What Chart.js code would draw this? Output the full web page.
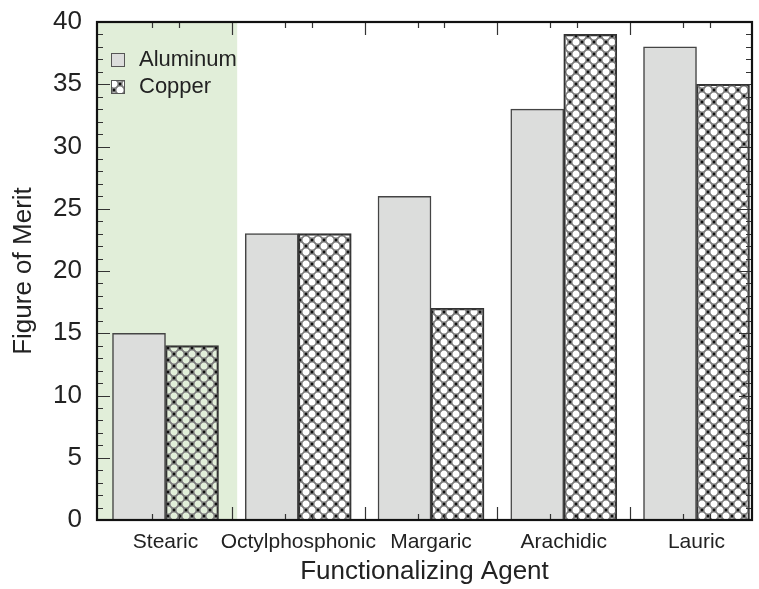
<!DOCTYPE html>
<html>
<head>
<meta charset="utf-8">
<script src="https://cdn.jsdelivr.net/npm/chart.js@4.4.1/dist/chart.umd.min.js"></script>
<style>
html, body { margin: 0; padding: 0; background: #fff; }
#wrap { width: 759px; height: 589px; }
</style>
</head>
<body>
<div id="wrap"><canvas id="chart" width="759" height="589"></canvas></div>
<script>
// values
const agents = ['Stearic', 'Octylphosphonic', 'Margaric', 'Arachidic', 'Lauric'];
const aluminum = [15, 23, 26, 33, 38];
const copper = [14, 23, 17, 39, 35];
const yMin = 0, yMax = 40, yStep = 5;
// x axis runs in category units (0 = Stearic)
const xMin = -0.516, xMax = 4.418;
const shaded = [xMin, 0.54];          // highlighted Stearic band
const xMajorTicks = [0.5, 1.5, 2.5, 3.5];
const xMinorTicks = [-0.1, 0.1, 0.9, 1.1, 1.9, 2.1, 2.9, 3.1, 3.9, 4.1];

const FONT = '"Liberation Sans", Arial, sans-serif';
const TEXT = '#222';

function makeHatch() {
    let c = document.createElement('canvas');
    c.width = 12; c.height = 12;
    let g = c.getContext('2d');
    g.strokeStyle = '#7d7d7d';
    g.lineWidth = 1.4;
    [[6, 0], [0, 6], [12, 6], [6, 12]].forEach(function(p) {
        g.beginPath();
        g.arc(p[0], p[1], 4.2, 0, Math.PI * 2);
        g.stroke();
    });
    g.fillStyle = '#111';
    [[0, 0], [12, 0], [0, 12], [12, 12], [6, 6]].forEach(function(p) {
        g.fillRect(p[0] - 1.3, p[1] - 1.3, 2.6, 2.6);
    });
    return g.createPattern(c, 'repeat');
}
let hatch = makeHatch();

let framePlugin = {
    id: 'frame',
    beforeDatasetsDraw: function(chart) {
        let ctx = chart.ctx, a = chart.chartArea, x = chart.scales.x;
        ctx.save();
        ctx.fillStyle = '#e1eed9';
        let x0 = x.getPixelForValue(shaded[0]), x1 = x.getPixelForValue(shaded[1]);
        ctx.fillRect(x0, a.top, x1 - x0, a.bottom - a.top);
        ctx.restore();
    },
    afterDatasetsDraw: function(chart) {
        let ctx = chart.ctx, a = chart.chartArea, x = chart.scales.x, y = chart.scales.y;
        ctx.save();
        ctx.strokeStyle = '#333';
        ctx.lineWidth = 1.2;
        ctx.beginPath();
        for (let v = yMin + 1; v < yMax; v++) {
            let py = Math.round(y.getPixelForValue(v)) + 0.5;
            let len = v % yStep == 0 ? 13 : 6;
            ctx.moveTo(a.left, py); ctx.lineTo(a.left + len, py);
            ctx.moveTo(a.right, py); ctx.lineTo(a.right - len, py);
        }
        xMajorTicks.forEach(function(v) {
            let px = Math.round(x.getPixelForValue(v)) + 0.5;
            ctx.moveTo(px, a.bottom); ctx.lineTo(px, a.bottom - 13);
            ctx.moveTo(px, a.top); ctx.lineTo(px, a.top + 13);
        });
        xMinorTicks.forEach(function(v) {
            let px = Math.round(x.getPixelForValue(v)) + 0.5;
            ctx.moveTo(px, a.bottom); ctx.lineTo(px, a.bottom - 6);
            ctx.moveTo(px, a.top); ctx.lineTo(px, a.top + 6);
        });
        ctx.stroke();
        ctx.strokeStyle = '#111';
        ctx.lineWidth = 2.2;
        ctx.strokeRect(a.left, a.top, a.right - a.left, a.bottom - a.top);
        ctx.restore();
    },
    afterDraw: function(chart) {
        // legend in the upper left corner of the plot
        let ctx = chart.ctx, a = chart.chartArea;
        ctx.save();
        ctx.font = '22px ' + FONT;
        ctx.textBaseline = 'middle';
        chart.data.datasets.forEach(function(ds, i) {
            let bx = a.left + 14, by = a.top + 31 + i * 27;
            ctx.fillStyle = '#fff';
            ctx.fillRect(bx, by, 14, 14);
            ctx.fillStyle = ds.backgroundColor;
            ctx.fillRect(bx, by, 14, 14);
            ctx.strokeStyle = '#555';
            ctx.lineWidth = 1;
            ctx.strokeRect(bx + 0.5, by + 0.5, 13, 13);
            ctx.fillStyle = TEXT;
            ctx.fillText(ds.label, bx + 28, by + 7);
        });
        ctx.restore();
    }
};

new Chart(document.getElementById('chart').getContext('2d'), {
    type: 'bar',
    data: {
        datasets: [
            {
                label: 'Aluminum',
                data: agents.map((a, i) => ({x: i, y: aluminum[i]})),
                backgroundColor: '#dcdddc',
                borderColor: '#444',
                borderWidth: 1.5,
                barThickness: 53
            },
            {
                label: 'Copper',
                data: agents.map((a, i) => ({x: i, y: copper[i]})),
                backgroundColor: hatch,
                borderColor: '#333',
                borderWidth: 1.5,
                barThickness: 53
            }
        ]
    },
    options: {
        responsive: false,
        animation: false,
        layout: { padding: { top: 22, right: 7, left: 0, bottom: 0 } },
        plugins: { legend: { display: false }, tooltip: { enabled: false } },
        scales: {
            x: {
                type: 'linear',
                offset: false,
                min: xMin,
                max: xMax,
                grid: { display: false },
                border: { display: false },
                ticks: {
                    stepSize: 1,
                    includeBounds: false,
                    autoSkip: false,
                    maxRotation: 0,
                    padding: 2,
                    color: TEXT,
                    font: { family: FONT, size: 21 },
                    callback: v => Number.isInteger(v) ? agents[v] : ''
                },
                title: {
                    display: true,
                    text: 'Functionalizing Agent',
                    color: TEXT,
                    font: { family: FONT, size: 26 },
                    padding: { top: 0, bottom: 2 }
                },
                afterFit: s => { s.height = 69; s.paddingLeft = 0; s.paddingRight = 0; }
            },
            y: {
                min: yMin,
                max: yMax,
                grid: { display: false },
                border: { display: false },
                ticks: {
                    stepSize: yStep,
                    padding: 7,
                    color: TEXT,
                    font: { family: FONT, size: 26 }
                },
                title: {
                    display: true,
                    text: 'Figure of Merit',
                    color: TEXT,
                    font: { family: FONT, size: 26 },
                    padding: { top: 8, bottom: 0 }
                },
                afterFit: s => { s.width = 97; s.paddingTop = 0; s.paddingBottom = 0; }
            }
        }
    },
    plugins: [framePlugin]
});
</script>
</body>
</html>
